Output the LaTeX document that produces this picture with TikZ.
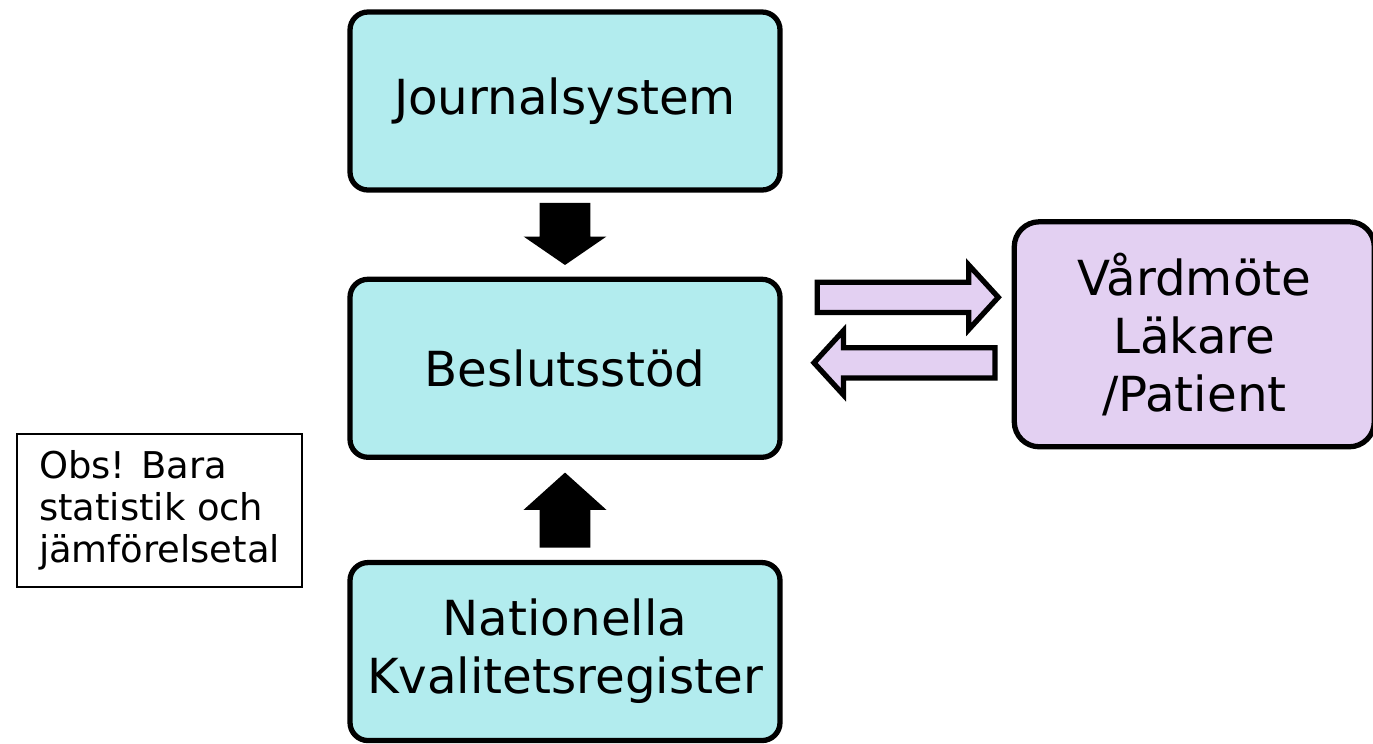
\documentclass[tikz,border=0pt]{standalone}
\usepackage{fontspec}
\setmainfont{DejaVu Sans}
\usetikzlibrary{positioning,shapes.arrows,calc}
\definecolor{boxcyan}{RGB}{178,236,238}
\definecolor{boxlila}{RGB}{227,208,242}

\begin{document}
\begin{tikzpicture}[
  node distance=1.68cm,
  sysbox/.style={rectangle, rounded corners=0.36cm, draw=black, line width=3pt, fill=boxcyan, align=center, minimum width=8.6cm, minimum height=3.56cm, font=\fontsize{27.5}{33}\selectfont},
  userbox/.style={sysbox, rounded corners=0.5cm, fill=boxlila, minimum width=7.2cm, minimum height=4.5cm},
  notebox/.style={rectangle, draw=black, line width=1.4pt, align=left, minimum width=5.7cm, minimum height=3.06cm, font=\fontsize{21}{24}\selectfont},
  solidarr/.style={single arrow, fill=black, inner xsep=0pt, inner ysep=0.5cm, minimum height=1.24cm, single arrow head extend=0.32cm, single arrow tip angle=111},
  hollowarr/.style={single arrow, draw=black, line width=3pt, fill=boxlila, inner xsep=0pt, inner ysep=0.25cm, minimum height=3.62cm, single arrow head extend=0.34cm, single arrow tip angle=95}
]
\useasboundingbox (0,0) rectangle (27.46,-14.86);
\node[sysbox] (jour) at (11.3,-2.02) {Journalsystem};
\node[sysbox, below=of jour] (besl) {Beslutsstöd};
\node[sysbox, below=2.0cm of besl] (nat) {Nationella\\Kvalitetsregister};
\node[userbox, right=4.58cm of besl, yshift=0.68cm] (vard) {Vårdmöte\\Läkare\\/Patient};
\node[notebox] (obs) at (3.19,-10.21) {Obs! Bara\\statistik och\\jämförelsetal};
% block arrows between the boxes
\node[solidarr, rotate=-90, anchor=tail] (jb) at ($(jour.south)+(0,-0.2)$) {};
\node[solidarr, rotate=90, anchor=tail, minimum height=1.5cm, single arrow tip angle=96] (nb) at ($(nat.north)+(0,0.24)$) {};
\node[hollowarr, anchor=tail] (bv) at ($(besl.east)+(0.64,1.42)$) {};
\node[hollowarr, rotate=180, anchor=tail] (vb) at ($(vard.west |- besl.east)+(-0.28,0.11)$) {};
\end{tikzpicture}
\end{document}
